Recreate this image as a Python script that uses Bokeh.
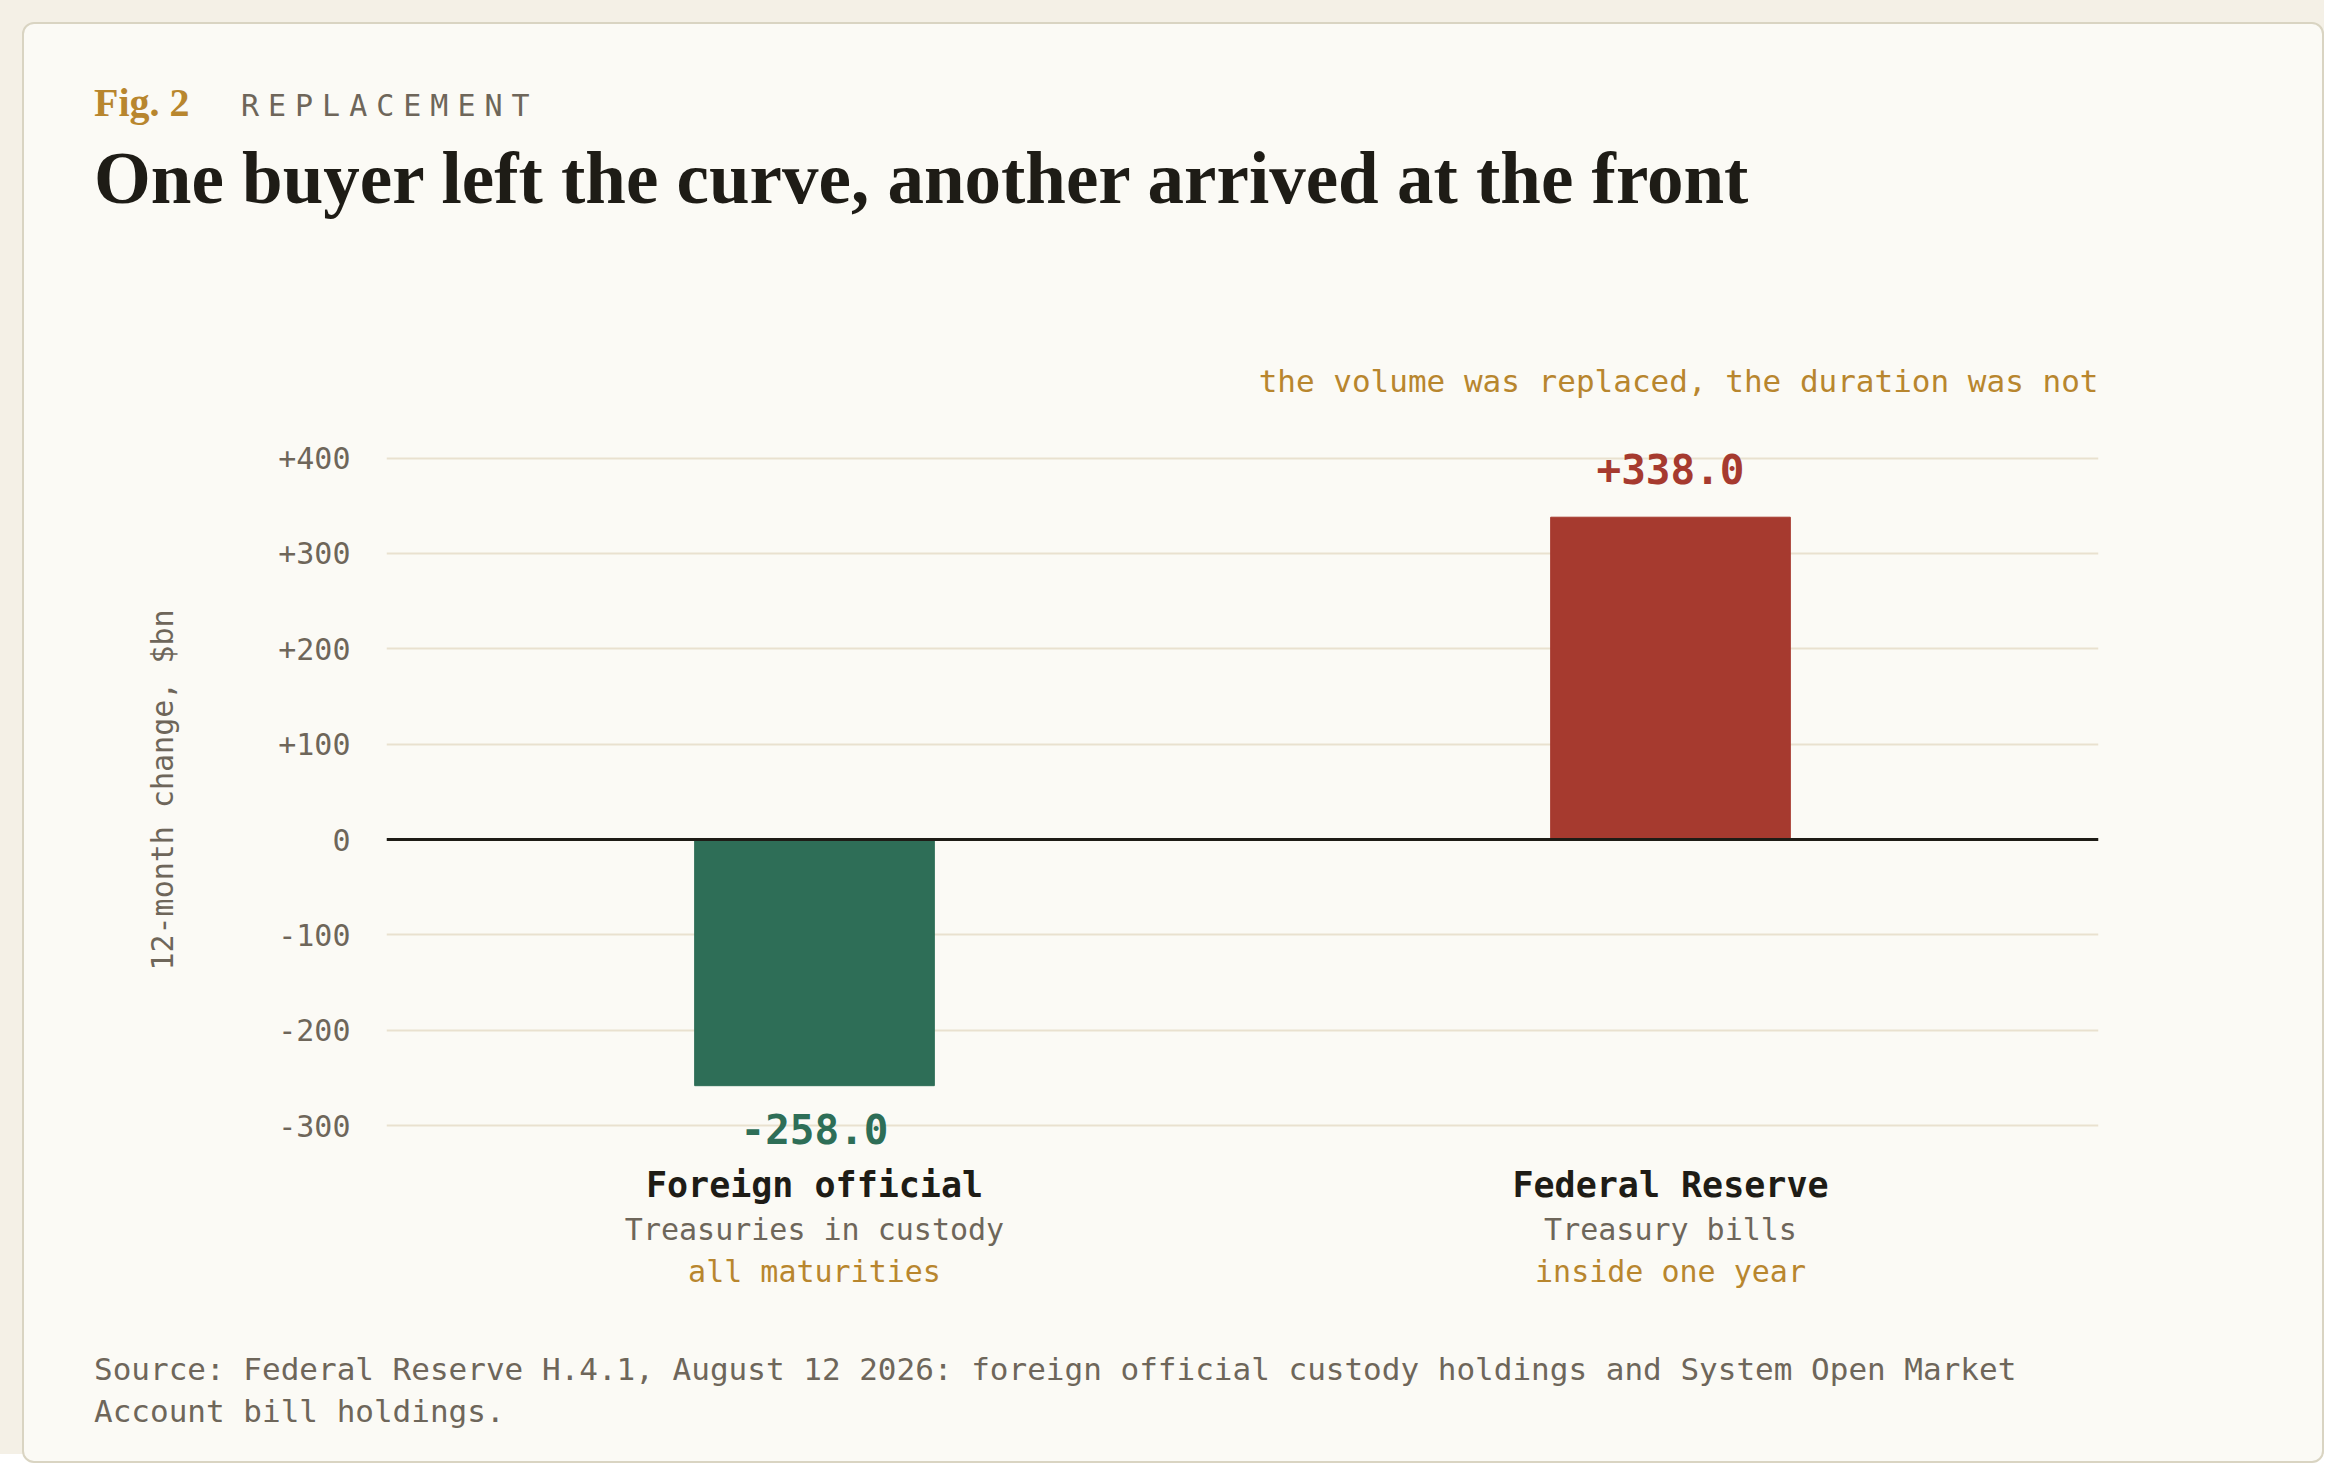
from bokeh.plotting import figure
from bokeh.models import Div, Span, FixedTicker, Spacer
from bokeh.layouts import column, row
from bokeh.core.properties import value
from bokeh.embed import file_html
from bokeh.resources import INLINE

buyers = ["Foreign official", "Federal Reserve"]
subtitles = ["Treasuries in custody", "Treasury bills"]
horizons = ["all maturities", "inside one year"]
changes = [-258.0, 338.0]
bar_colors = ["#2e6e57", "#a63a2f"]
ticks = [-300, -200, -100, 0, 100, 200, 300, 400]
tick_labels = ["-300", "-200", "-100", "0", "+100", "+200", "+300", "+400"]
note = "the volume was replaced, the duration was not"

MONO = "DejaVu Sans Mono"
INK = "#1e1c16"
GREY = "#6e665a"
GOLD = "#b8862e"
CARD = "#fbfaf5"

xs = [i + 0.5 for i in range(len(buyers))]

p = figure(width=2288, height=1062, x_range=(0, 2), y_range=(-500, 604),
           output_backend="svg", toolbar_location=None,
           min_border_left=362, min_border_right=214,
           min_border_top=5, min_border_bottom=4)
p.background_fill_color = CARD
p.border_fill_color = CARD
p.outline_line_color = None
p.xaxis.visible = False
p.xgrid.visible = False

p.vbar(x=xs, top=changes, bottom=0, width=0.28, color=bar_colors)
p.add_layout(Span(location=0, dimension="width", line_color=INK, line_width=3))

p.yaxis.ticker = FixedTicker(ticks=ticks)
p.yaxis.major_label_overrides = {t: l for t, l in zip(ticks, tick_labels)}
p.yaxis.axis_line_color = None
p.yaxis.major_tick_line_color = None
p.yaxis.minor_tick_line_color = None
p.yaxis.major_label_text_font = MONO
p.yaxis.major_label_text_font_size = "30px"
p.yaxis.major_label_text_color = GREY
p.yaxis.major_label_standoff = 30
p.yaxis.axis_label = "12-month change, $bn"
p.yaxis.axis_label_text_font = MONO
p.yaxis.axis_label_text_font_size = "30px"
p.yaxis.axis_label_text_font_style = "normal"
p.yaxis.axis_label_text_color = GREY
p.yaxis.axis_label_standoff = 95
p.ygrid.grid_line_color = "#e9e1cf"
p.ygrid.grid_line_width = 2

val_txt = [f"{v:+.1f}" for v in changes]
val_off = [-48 if v > 0 else 43 for v in changes]
p.text(x=xs, y=changes, text=val_txt, y_offset=val_off, text_font=value(MONO),
       text_font_size="41px", text_font_style="bold", text_color=bar_colors,
       text_align="center", text_baseline="middle")

base = [-330] * len(xs)
for txt, dy, col, fs, st in [(buyers, 31, INK, "35px", "bold"),
                             (subtitles, 75, GREY, "30px", "normal"),
                             (horizons, 117, GOLD, "30px", "normal")]:
    p.text(x=xs, y=base, text=txt, y_offset=dy, text_font=value(MONO),
           text_font_size=fs, text_font_style=st, text_color=col,
           text_align="center", text_baseline="middle")

p.text(x=[2], y=[430], text=[note], y_offset=-48, text_font=value(MONO),
       text_font_size="31px", text_color=GOLD, text_align="right", text_baseline="middle")

header = Div(width=2288, height=224, text=f"""
<div style="padding-left:65px;padding-top:54px;">
<div style="line-height:40px;height:40px;white-space:nowrap;">
<span style="font-family:'Liberation Serif';font-weight:bold;font-size:40px;color:{GOLD};">Fig. 2</span>
<span style="font-family:'{MONO}';font-size:30px;letter-spacing:0.3em;color:{GREY};margin-left:48px;">REPLACEMENT</span>
</div>
<div style="margin-top:16px;line-height:80px;font-family:'Liberation Serif';font-weight:bold;font-size:73px;color:{INK};white-space:nowrap;">
One buyer left the curve, another arrived at the front</div>
</div>""")

footer = Div(width=2288, height=131, text=f"""
<div style="padding-left:65px;padding-top:23px;font-family:'{MONO}';font-size:31px;line-height:42px;color:{GREY};white-space:nowrap;">
Source: Federal Reserve H.4.1, August 12 2026: foreign official custody holdings and System Open Market<br>
Account bill holdings.</div>""")

card = column(header, p, footer, spacing=0,
              styles={"background-color": CARD, "border": "2px solid #d9d4c2",
                      "border-radius": "12px"})
page = column(Spacer(height=22), row(Spacer(width=22), card), width=2324, height=1454,
              styles={"background-color": "#f4f0e6"})

open("out.html", "w").write(file_html(page, INLINE))
